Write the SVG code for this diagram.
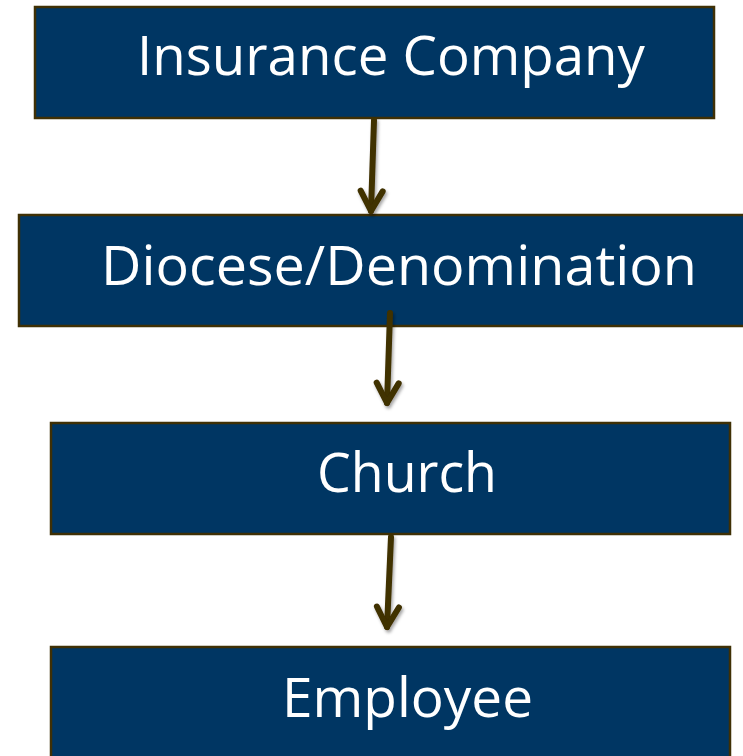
<svg xmlns="http://www.w3.org/2000/svg" width="743" height="756" viewBox="0 0 743 756">
  <style>
    .box { fill: #003663; stroke: #3f3005; stroke-width: 2.5; }
    .label { fill: #ffffff; font-family: "Open Sans", "Liberation Sans", sans-serif; font-size: 54px; }
    .link { fill: none; stroke: #3f3005; stroke-width: 6; stroke-linecap: round; filter: url(#shade); }
  </style>
  <defs>
    <filter id="shade" filterUnits="userSpaceOnUse" x="0" y="0" width="743" height="756">
      <feDropShadow dx="1.5" dy="2.5" stdDeviation="1.8" flood-color="#000000" flood-opacity="0.35"/>
    </filter>
    <marker id="chevron" viewBox="-26 -16 30 32" refX="0" refY="0" markerWidth="30" markerHeight="32" markerUnits="userSpaceOnUse" orient="auto">
      <path d="M -20 -11 L 0 0 L -20 11" fill="none" stroke="#3f3005" stroke-width="6" stroke-linecap="round" stroke-linejoin="round"/>
    </marker>
  </defs>

  <rect width="743" height="756" fill="#ffffff"/>

  <g id="node-insurance">
    <rect class="box" x="35" y="7" width="679" height="111"/>
    <text class="label" x="137" y="75" textLength="508" lengthAdjust="spacingAndGlyphs">Insurance Company</text>
  </g>
  <g id="node-diocese">
    <rect class="box" x="19" y="215" width="730" height="111"/>
    <text class="label" x="101" y="285" textLength="596" lengthAdjust="spacingAndGlyphs">Diocese/Denomination</text>
  </g>
  <g id="node-church">
    <rect class="box" x="51" y="423" width="679" height="111"/>
    <text class="label" x="317" y="492" textLength="180" lengthAdjust="spacingAndGlyphs">Church</text>
  </g>
  <g id="node-employee">
    <rect class="box" x="51" y="647" width="679" height="120"/>
    <text class="label" x="282" y="717" textLength="251" lengthAdjust="spacingAndGlyphs">Employee</text>
  </g>

  <g id="connectors">
    <path class="link" d="M 374 120 L 371 211" marker-end="url(#chevron)"/>
    <path class="link" d="M 390 313 L 387 403" marker-end="url(#chevron)"/>
    <path class="link" d="M 391 537 L 387 627" marker-end="url(#chevron)"/>
  </g>
</svg>
